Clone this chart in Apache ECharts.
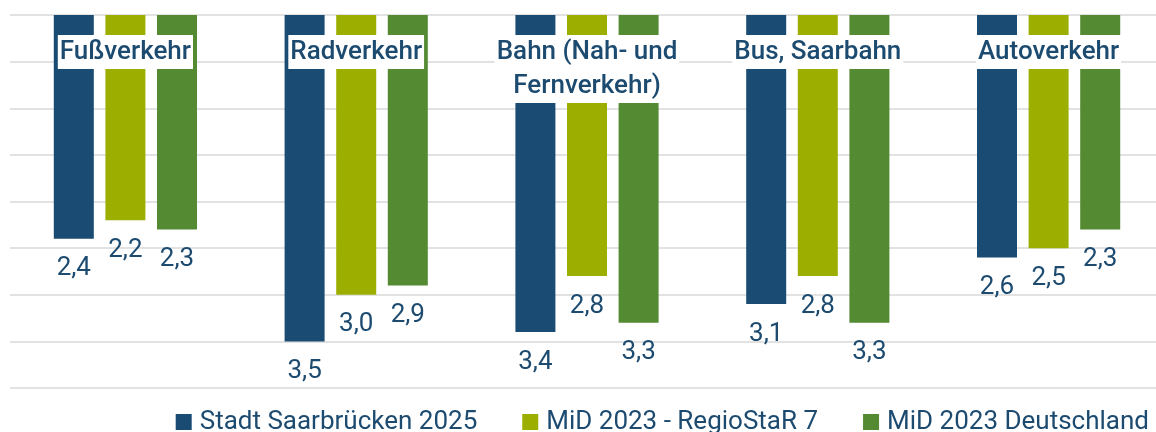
<!DOCTYPE html>
<html>
<head>
<meta charset="utf-8">
<script src="https://cdn.jsdelivr.net/npm/echarts@6/dist/echarts.min.js"></script>
<style>html,body{margin:0;padding:0;background:#fff;overflow:hidden;}#c{width:1164px;height:432px;}</style>
</head>
<body>
<div id="c"></div>
<script>
const categories = ['Fußverkehr', 'Radverkehr', 'Bahn (Nah- und\nFernverkehr)', 'Bus, Saarbahn', 'Autoverkehr'];
const seriesNames = ['Stadt Saarbrücken 2025', 'MiD 2023 - RegioStaR 7', 'MiD 2023 Deutschland'];
const saarbruecken = [2.4, 3.5, 3.4, 3.1, 2.6];
const regiostar = [2.2, 3.0, 2.8, 2.8, 2.5];
const deutschland = [2.3, 2.9, 3.3, 3.3, 2.3];
const colors = ['#194b73', '#9caf00', '#538a32'];
const textColor = '#1d4b70';
const font = 'Roboto';

const chart = echarts.init(document.getElementById('c'), null, {renderer: 'canvas'});
const values = [saarbruecken, regiostar, deutschland];
chart.setOption({
  animation: false,
  grid: {left: 10, right: 0, top: 15, bottom: 44, containLabel: false},
  legend: {
    right: 10, top: 403,
    icon: 'rect', itemWidth: 16, itemHeight: 16, itemGap: 45,
    textStyle: {fontFamily: font, fontSize: 26, color: textColor, lineHeight: 28, padding: [0, 0, 0, 3]},
    data: seriesNames
  },
  xAxis: {
    type: 'category', position: 'top', data: categories, z: 10,
    axisLine: {show: false}, axisTick: {show: false}, splitLine: {show: false},
    axisLabel: {
      inside: true, margin: 20, interval: 0,
      fontFamily: font, fontSize: 26, fontWeight: 500, color: textColor,
      lineHeight: 34, backgroundColor: '#fff', padding: [0, 2, 0, 2], align: 'center'
    }
  },
  yAxis: {
    type: 'value', inverse: true, min: 0, max: 4, interval: 0.5,
    axisLabel: {show: false}, axisLine: {show: false}, axisTick: {show: false},
    splitLine: {show: true, lineStyle: {color: '#d9d9d9', width: 1.5}}
  },
  series: seriesNames.map((n, i) => ({
    name: n, type: 'bar', data: values[i], barWidth: 40, barGap: '29%',
    itemStyle: {color: colors[i]},
    label: {
      show: true, position: 'bottom', distance: 17,
      fontFamily: font, fontSize: 26, color: textColor, lineHeight: 26,
      formatter: p => p.value.toFixed(1).replace('.', ',')
    }
  }))
});
</script>
</body>
</html>
